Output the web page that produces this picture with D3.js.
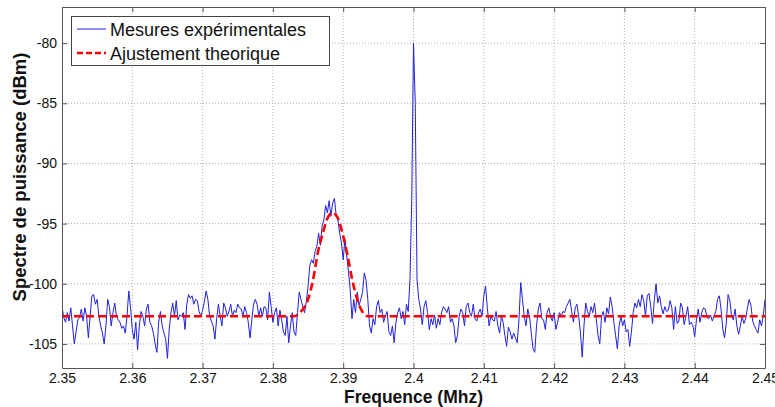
<!DOCTYPE html>
<html>
<head>
<meta charset="utf-8">
<script src="https://cdn.jsdelivr.net/npm/d3@7"></script>
<style>
  html, body { margin: 0; padding: 0; background: #fff; }
  svg { display: block; font-family: "Liberation Sans", Arial, sans-serif; }
</style>
</head>
<body>
<svg id="chart" width="775" height="407"></svg>
<script>
// ---------- data ----------
const freqStart = 2.35;
const freqStep = 0.00025;   // MHz between successive measurements

// measured power spectrum (dBm), one value per freqStep from 2.35 to 2.45
const measured = [
  // 2.35 ...
  -101.9,-102.8,-103.2,-102.4,-103.1,-102.0,-103.5,-105.0,-104.0,-103.0,-102.8,-102.1,-103.1,-102.0,-102.7,-104.5,-102.7,-101.0,-100.9,-101.7,
  -101.3,-102.7,-103.5,-104.1,-105.0,-103.5,-101.3,-101.9,-103.5,-102.4,-101.6,-102.7,-103.0,-103.2,-103.7,-103.5,-104.1,-102.7,-100.6,-102.0,
  -103.8,-104.6,-103.2,-105.5,-103.5,-102.3,-102.7,-103.5,-102.1,-101.7,-103.2,-103.5,-104.1,-105.0,-105.7,-103.2,-102.3,
  // ~2.3643 ...
  -103.5,-104.1,-104.6,-106.2,-103.8,-102.4,-101.6,-102.7,-101.4,-103.0,-102.6,-102.7,-102.4,-103.8,-101.7,-100.9,-101.2,-101.0,-101.7,-101.3,
  -101.4,-102.3,-102.7,-102.2,-101.5,-100.6,-101.3,-102.7,-103.1,-103.5,-104.6,-102.9,-101.7,-102.7,-103.5,-101.6,-102.0,-102.7,-102.3,-101.7,
  -102.7,-102.2,-102.4,-101.7,-102.0,-102.1,-102.7,-101.9,-102.4,-103.2,-104.5,-103.0,-101.7,-101.3,-101.7,-102.7,-102.0,-102.7,
  // ~2.3788 ...
  -101.9,-102.0,-103.0,-100.7,-101.9,-103.2,-102.4,-102.0,-103.5,-102.2,-103.0,-104.0,-104.3,-102.7,-104.9,-103.5,-102.4,-104.0,-104.3,-102.4,
  -100.7,-101.3,-101.9,-102.4,-101.5,-100.2,-98.5,-98.0,-98.3,-97.3,-96.9,-95.8,-96.8,-95.2,-94.7,-93.5,-94.1,-93.1,-94.4,-93.3,
  -92.9,-94.3,-94.7,-95.8,-96.6,-98.0,-96.3,-97.7,-99.0,-100.5,-102.9,-101.3,-102.4,-100.7,-101.8,-101.3,-100.7,-99.1,-99.7,-101.3,
  // ~2.39375 ...
  -103.5,-104.1,-102.9,-103.4,-101.9,-101.4,-102.4,-102.1,-103.2,-102.7,-102.3,-104.0,-104.3,-103.5,-104.9,-103.2,-102.4,-102.0,-102.9,-102.3,
  -103.4,-101.7,-102.3,-99.6,-93.0,-80.0,-85.0,-99.6,-101.3,-102.1,-103.4,-101.9,-101.4,-102.4,-103.8,-102.9,-103.4,-102.6,-103.7,-102.9,
  -103.4,-102.4,-101.9,-102.1,-102.4,-101.9,-103.2,-102.9,-103.5,-104.9,-104.3,-102.7,-102.1,-102.4,-103.5,-101.9,-101.6,-102.4,
  // ~2.40825 ...
  -102.7,-101.7,-102.9,-103.1,-102.4,-102.1,-102.7,-101.0,-100.2,-102.0,-103.5,-102.7,-103.0,-103.1,-102.3,-103.5,-104.1,-102.7,-103.2,-104.3,
  -105.2,-103.6,-104.0,-104.6,-104.1,-104.5,-104.9,-103.0,-99.9,-101.3,-102.7,-103.5,-102.1,-102.7,-104.1,-105.4,-105.7,-103.5,-102.1,-101.6,
  -102.9,-103.0,-103.8,-102.4,-102.0,-102.7,-103.1,-102.4,-103.8,-103.2,-102.4,-102.7,-102.3,-102.4,-101.9,-101.6,-101.3,-102.3,
  // ~2.42275 ...
  -103.2,-102.0,-101.7,-102.7,-104.1,-106.1,-103.5,-101.6,-102.3,-102.7,-101.9,-102.4,-101.6,-102.9,-104.3,-105.0,-102.7,-102.3,-103.2,-102.0,
  -102.5,-101.1,-101.9,-103.2,-104.3,-105.4,-103.5,-102.7,-103.5,-103.0,-104.0,-103.8,-105.2,-104.0,-102.4,-101.6,-102.0,-101.3,-101.9,-100.9,
  -101.4,-102.7,-101.0,-100.8,-101.9,-103.3,-101.4,-100.0,-101.6,-101.0,-101.9,-102.5,-101.9,-102.3,-102.2,-101.4,-102.0,
  // ~2.437 ... 2.45
  -103.8,-101.9,-103.3,-103.1,-101.6,-102.0,-103.4,-102.7,-101.9,-103.4,-103.2,-103.5,-104.4,-103.0,-102.1,-103.2,-102.4,-102.0,-102.1,-102.8,
  -102.9,-102.6,-103.1,-102.7,-102.3,-101.3,-101.0,-102.1,-103.8,-104.5,-103.2,-100.9,-101.4,-102.7,-103.0,-102.1,-103.5,-104.2,-103.5,-102.7,
  -103.3,-102.9,-102.0,-101.3,-101.8,-103.1,-103.5,-103.8,-104.1,-103.0,-103.5,-102.7,-101.3
];

// theoretical fit: knot frequencies (MHz) and levels (dBm)
const fitFreq  = [2.35, 2.3830, 2.3840, 2.3850, 2.3857, 2.3864, 2.3871, 2.3878, 2.3885, 2.3892, 2.3899, 2.3906, 2.3913, 2.3920, 2.3927, 2.3935, 2.45];
const fitLevel = [-102.7, -102.7, -102.3, -101.3, -99.7, -97.4, -95.8, -94.5, -94.1, -94.5, -95.8, -97.6, -99.7, -101.3, -102.3, -102.7, -102.7];

const xTicks = [2.35, 2.36, 2.37, 2.38, 2.39, 2.40, 2.41, 2.42, 2.43, 2.44, 2.45];
const xTickLabels = ["2.35","2.36","2.37","2.38","2.39","2.4","2.41","2.42","2.43","2.44","2.45"];
const yTicks = [-105, -100, -95, -90, -85, -80];
const yTickLabels = ["-105","-100","-95","-90","-85","-80"];

const legendLabels = ["Mesures expérimentales", "Ajustement theorique"];
const xTitle = "Frequence (Mhz)";
const yTitle = "Spectre de puissance (dBm)";

// ---------- layout ----------
const svg = d3.select("#chart");
const L = 62, R = 765, T = 7, B = 368;

const x = d3.scaleLinear().domain([2.35, 2.45]).range([L, R]);
const y = d3.scaleLinear().domain([-107, -77]).range([B, T]);

const measuredPts = measured.map((v, i) => [freqStart + i * freqStep, v]);
const fitPts = fitFreq.map((f, i) => [f, fitLevel[i]]);

// grid
const grid = svg.append("g");
grid.selectAll("line.gx").data(xTicks.slice(1, -1)).join("line")
  .attr("x1", d => x(d)).attr("x2", d => x(d)).attr("y1", T).attr("y2", B)
  .attr("stroke", "#b0b0b0").attr("stroke-width", 1).attr("stroke-dasharray", "1,2");
grid.selectAll("line.gy").data(yTicks).join("line")
  .attr("x1", L).attr("x2", R).attr("y1", d => y(d)).attr("y2", d => y(d))
  .attr("stroke", "#b0b0b0").attr("stroke-width", 1).attr("stroke-dasharray", "1,2");

// clip
svg.append("clipPath").attr("id", "clip").append("rect")
  .attr("x", L).attr("y", T).attr("width", R - L).attr("height", B - T);

// measured line
svg.append("path").datum(measuredPts)
  .attr("clip-path", "url(#clip)")
  .attr("fill", "none").attr("stroke", "#2020e0").attr("stroke-width", 1)
  .attr("stroke-linejoin", "round")
  .attr("d", d3.line().x(d => x(d[0])).y(d => y(d[1])));

// fit line
svg.append("path").datum(fitPts)
  .attr("clip-path", "url(#clip)")
  .attr("fill", "none").attr("stroke", "#ff0000").attr("stroke-width", 2.6)
  .attr("stroke-dasharray", "8,4")
  .attr("d", d3.line().curve(d3.curveMonotoneX).x(d => x(d[0])).y(d => y(d[1])));

// axes (MATLAB-style inward ticks)
const axB = d3.axisBottom(x).tickValues(xTicks).tickSizeInner(-5).tickSizeOuter(0)
  .tickPadding(5).tickFormat((d, i) => xTickLabels[i]);
const axT = d3.axisTop(x).tickValues(xTicks).tickSizeInner(-5).tickSizeOuter(0).tickFormat("");
const axLft = d3.axisLeft(y).tickValues(yTicks).tickSizeInner(-5).tickSizeOuter(0)
  .tickPadding(5).tickFormat((d, i) => yTickLabels[i]);
const axRt = d3.axisRight(y).tickValues(yTicks).tickSizeInner(-5).tickSizeOuter(0).tickFormat("");

function style(g) {
  g.select(".domain").attr("stroke", "#555");
  g.selectAll(".tick line").attr("stroke", "#555");
  g.selectAll(".tick text").attr("fill", "#111").attr("font-size", 14)
    .attr("font-family", "Liberation Sans, Arial, sans-serif");
}
svg.append("g").attr("transform", `translate(0,${B})`).call(axB).call(style);
svg.append("g").attr("transform", `translate(0,${T})`).call(axT).call(style);
svg.append("g").attr("transform", `translate(${L},0)`).call(axLft).call(style);
svg.append("g").attr("transform", `translate(${R},0)`).call(axRt).call(style);

// titles
svg.append("text").attr("x", (L + R) / 2).attr("y", 403)
  .attr("text-anchor", "middle").attr("font-size", 17.5).attr("font-weight", "bold")
  .attr("fill", "#111").text(xTitle);
svg.append("text")
  .attr("transform", `translate(26,177) rotate(-90)`)
  .attr("text-anchor", "middle").attr("font-size", 18.5).attr("font-weight", "bold")
  .attr("fill", "#111").text(yTitle);

// legend
const lg = svg.append("g");
lg.append("rect").attr("x", 71.5).attr("y", 16.5).attr("width", 258).attr("height", 49)
  .attr("fill", "#fff").attr("stroke", "#444").attr("stroke-width", 1);
const legendStyles = [
  { stroke: "#2020e0", width: 1, dash: null },
  { stroke: "#ff0000", width: 2.6, dash: "6,3" }
];
legendLabels.forEach((lab, i) => {
  const yy = 29 + i * 24;
  lg.append("line").attr("x1", 77).attr("x2", 106).attr("y1", yy).attr("y2", yy)
    .attr("stroke", legendStyles[i].stroke).attr("stroke-width", legendStyles[i].width)
    .attr("stroke-dasharray", legendStyles[i].dash);
  lg.append("text").attr("x", 110).attr("y", yy + 6.5).attr("font-size", 18)
    .attr("fill", "#111").text(lab);
});
</script>
</body>
</html>
